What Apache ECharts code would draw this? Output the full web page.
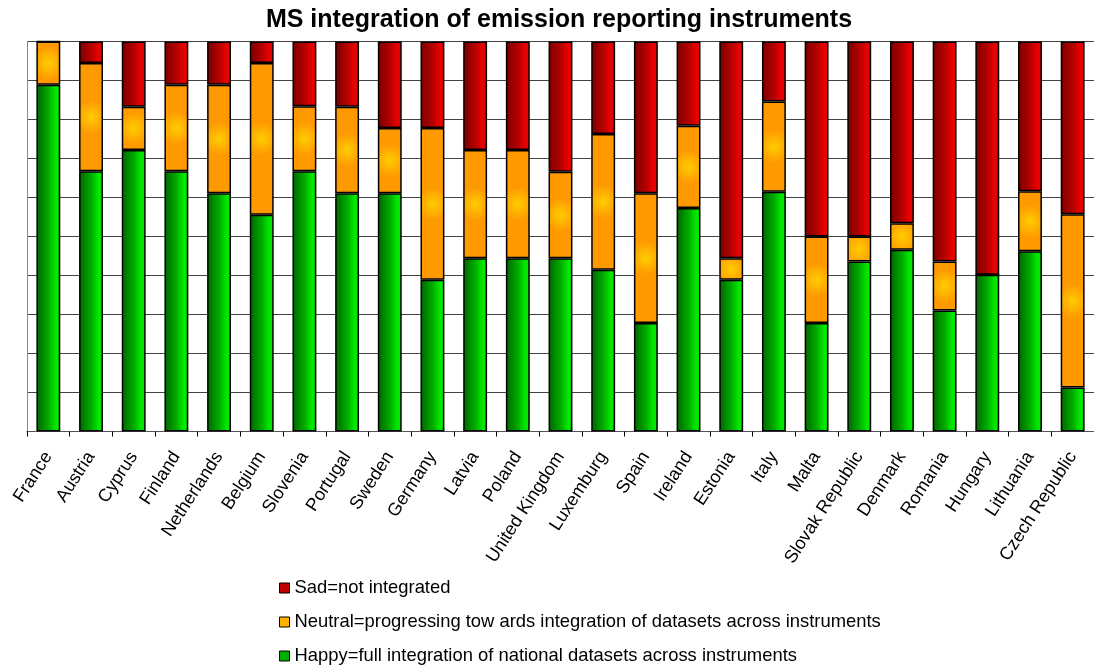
<!DOCTYPE html>
<html>
<head>
<meta charset="utf-8">
<script src="https://cdn.jsdelivr.net/npm/echarts@6/dist/echarts.min.js"></script>
<style>html,body{margin:0;padding:0;background:#fff}#c{width:1094px;height:671px}</style>
</head>
<body>
<div id="c"></div>
<script>
const categories = ['France','Austria','Cyprus','Finland','Netherlands','Belgium','Slovenia','Portugal','Sweden','Germany','Latvia','Poland','United Kingdom','Luxemburg','Spain','Ireland','Estonia','Italy','Malta','Slovak Republic','Denmark','Romania','Hungary','Lithuania','Czech Republic'];
const happy   = [88.9,66.7,72.2,66.7,61.1,55.6,66.7,61.1,61.1,38.9,44.4,44.4,44.4,41.5,27.8,57.3,38.9,61.5,27.8,43.6,46.6,31.0,40.2,46.2,11.3];
const neutral = [11.1,27.8,11.1,22.2,27.8,38.9,16.7,22.2,16.7,38.9,27.8,27.8,22.2,34.8,33.3,21.1,5.5,23.1,22.2,6.4,6.8,12.6,0,15.4,44.4];
const sad     = [0,5.5,16.7,11.1,11.1,5.5,16.6,16.7,22.2,22.2,27.8,27.8,33.4,23.7,38.9,21.6,55.6,15.4,50.0,50.0,46.6,56.4,59.8,38.4,44.3];
const seriesNames = ['Happy=full integration of national datasets across instruments','Neutral=progressing tow ards integration of datasets across instruments','Sad=not integrated'];

const chart = echarts.init(document.getElementById('c'));
const G = echarts.graphic;
const greenGrad = new G.LinearGradient(0,0,1,0,[{offset:0,color:'#006400'},{offset:0.5,color:'#00ac00'},{offset:0.85,color:'#00ee00'},{offset:1,color:'#00cc00'}]);
const orangeGrad = new G.RadialGradient(0.5,0.5,0.7,[{offset:0,color:'#ffcc00'},{offset:1,color:'#ff9900'}]);
const redGrad = new G.LinearGradient(0,0,1,0,[{offset:0,color:'#7a0000'},{offset:0.5,color:'#b40000'},{offset:0.85,color:'#ee0000'},{offset:1,color:'#d40000'}]);
const fills = [greenGrad, orangeGrad, redGrad];
const legendColors = ['#00b000','#ffb000','#c00000'];
const values = [happy, neutral, sad];

chart.setOption({
  animation:false,
  title:{text:'MS integration of emission reporting instruments',left:554,textAlign:'center',top:3,
    textStyle:{fontFamily:'Liberation Sans',fontSize:25,fontWeight:'bold',color:'#000'}},
  legend:{orient:'vertical',left:279,top:579,padding:0,itemWidth:10,itemHeight:10,itemGap:16,itemTextGap:7,
    textStyle:{fontFamily:'Liberation Sans',fontSize:18.4,color:'#000'},
    data:[2,1,0].map(i=>({name:seriesNames[i],icon:'rect',itemStyle:{color:legendColors[i],borderColor:'#000',borderWidth:1}}))},
  grid:{left:27,right:-5,top:41.5,height:390},
  xAxis:{type:'category',data:categories,
    axisLine:{lineStyle:{color:'#555',width:1}},
    axisTick:{show:true,length:5,lineStyle:{color:'#000'}},
    axisLabel:{rotate:57,interval:0,fontFamily:'Liberation Sans',fontSize:18,color:'#000',margin:22}},
  yAxis:{type:'value',min:0,max:100,interval:10,
    axisLabel:{show:false},axisTick:{show:false},
    axisLine:{show:true,lineStyle:{color:'#888'}},
    splitLine:{show:true,lineStyle:{color:'#444',width:1}}},
  series:[0,1,2].map(i=>({name:seriesNames[i],type:'bar',stack:'s',barWidth:'56%',
    data:values[i],
    itemStyle:{color:fills[i],borderColor:'#000',borderWidth:1.5}}))
});
</script>
</body>
</html>
